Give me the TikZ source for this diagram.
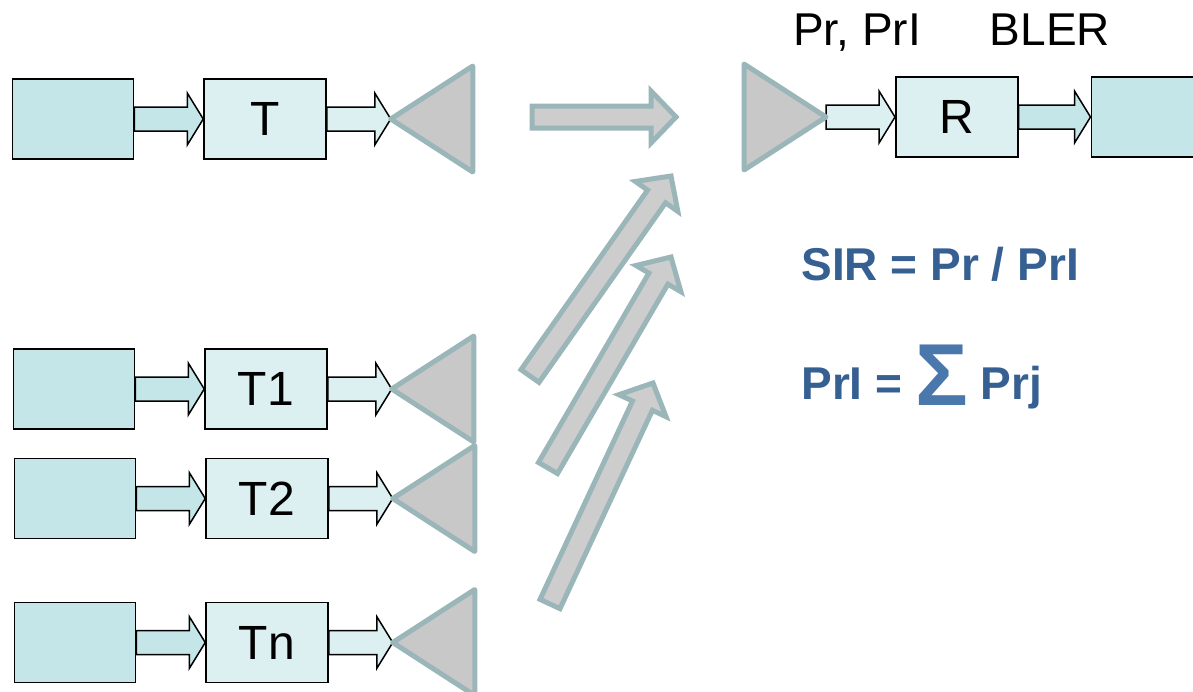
\documentclass[tikz,border=0pt]{standalone}
\usepackage{fontspec}
\setmainfont{Liberation Sans}
\usetikzlibrary{calc, positioning}
\definecolor{srcfill}{HTML}{C4E6E8}
\definecolor{txfill}{HTML}{DCEFF1}
\definecolor{antfill}{HTML}{C8C8C8}
\definecolor{antdraw}{HTML}{9BB6B9}
\definecolor{bigfill}{HTML}{CDCDCD}
\definecolor{textblue}{HTML}{376092}
\definecolor{sigmablue}{HTML}{4A78AC}
\tikzset{
    blockarrow/.style n args={3}{to path={
        ($(\tikztotarget)!#3!(\tikztostart)$) coordinate (bahead)
        ($(\tikztostart)!#1!90:(\tikztotarget)$)
        -- ($(bahead)!#1!-90:(\tikztostart)$)
        -- ($(bahead)!#2!-90:(\tikztostart)$)
        -- (\tikztotarget)
        -- ($(bahead)!#2!90:(\tikztostart)$)
        -- ($(bahead)!#1!90:(\tikztostart)$)
        -- ($(\tikztostart)!#1!-90:(\tikztotarget)$) -- cycle}},
    source/.style={rectangle, draw=black, line width=0.75pt, fill=srcfill, minimum width=60.5pt, minimum height=40pt, inner sep=0pt},
    txbox/.style={rectangle, draw=black, line width=0.75pt, fill=txfill, minimum width=61pt, minimum height=40pt, inner sep=0pt, font=\fontsize{24}{28}\selectfont},
    antenna/.style={draw=antdraw, fill=antfill, line width=2.5pt, line join=round},
    smallarrow/.style={draw=black, line width=0.75pt, line join=miter, blockarrow={6pt}{13pt}{8pt}},
    bigarrow/.style={draw=antdraw, fill=bigfill, line width=2.5pt, line join=miter, blockarrow={5.5pt}{13pt}{12.5pt}},
    toplabel/.style={inner sep=0pt, font=\fontsize{23}{27}\selectfont},
    formula/.style={inner sep=0pt, text=textblue, font=\fontsize{23}{27}\selectfont\bfseries}
}
\begin{document}
\begin{tikzpicture}[x=0.5pt, y=-0.5pt]
        \useasboundingbox (0,0) rectangle (1193,691);
        \clip (0,0) rectangle (1193,691);

        % Wanted link: transmitter side
        \node (src) [source] at (73,119) {};
        \node (tx) [txbox, right=34.5pt of src] {T};
        \coordinate [right=32pt of tx] (antT);
        \draw[smallarrow, fill=srcfill] (src.east) to (tx.west);
        \draw[smallarrow, fill=txfill] (tx.east) to (antT);
        \draw[antenna] (antT) -- ++(82,-53) -- ++(0,106) -- cycle;

        % Interferers
        \node (src1) [source] at (74,389) {};
        \node (tx1) [txbox, right=34.5pt of src1] {T1};
        \coordinate [right=32pt of tx1] (ant1);
        \draw[smallarrow, fill=srcfill] (src1.east) to (tx1.west);
        \draw[smallarrow, fill=txfill] (tx1.east) to (ant1);
        \draw[antenna] (ant1) -- ++(82,-53) -- ++(0,106) -- cycle;

        \node (src2) [source] at (75,498.5) {};
        \node (tx2) [txbox, right=34.5pt of src2] {T2};
        \coordinate [right=32pt of tx2] (ant2);
        \draw[smallarrow, fill=srcfill] (src2.east) to (tx2.west);
        \draw[smallarrow, fill=txfill] (tx2.east) to (ant2);
        \draw[antenna] (ant2) -- ++(82,-53) -- ++(0,106) -- cycle;

        \node (srcn) [source] at (75,642.5) {};
        \node (txn) [txbox, right=34.5pt of srcn] {Tn};
        \coordinate [right=32pt of txn] (antn);
        \draw[smallarrow, fill=srcfill] (srcn.east) to (txn.west);
        \draw[smallarrow, fill=txfill] (txn.east) to (antn);
        \draw[antenna] (antn) -- ++(82,-53) -- ++(0,106) -- cycle;

        % Radio paths
        \coordinate (wantfrom) at (532,117);
        \coordinate (wantto) at (676,117);
        \coordinate (itf1from) at (530,376);
        \coordinate (itf1to) at (671,176);
        \coordinate (itf2from) at (548,468);
        \coordinate (itf2to) at (671,257);
        \coordinate (itfnfrom) at (550,604);
        \coordinate (itfnto) at (653,383);
        \draw[bigarrow] (wantfrom) to (wantto);
        \draw[bigarrow] (itf1from) to (itf1to);
        \draw[bigarrow] (itf2from) to (itf2to);
        \draw[bigarrow] (itfnfrom) to (itfnto);

        % Receiver side
        \coordinate (antR) at (826,117);
        \node (rx) [txbox, right=34.5pt of antR] {R};
        \node (sink) [source, minimum width=61pt, right=36pt of rx] {};
        \draw[smallarrow, fill=txfill] (antR) to (rx.west);
        \draw[smallarrow, fill=srcfill] (rx.east) to (sink.west);
        \draw[antenna] (antR) -- ++(-82,-53) -- ++(0,106) -- cycle;

        % Labels
        \node (pwr) [toplabel, anchor=base] at (857,45) {Pr, PrI};
        \node (bler) [toplabel, anchor=base] at (1050,45) {BLER};
        \node (sir) [formula, anchor=base west] at (801,280) {SIR = Pr / PrI};
        \node (pri) [formula, anchor=base west] at (801,399) {PrI = {\fontsize{44}{44}\selectfont\color{sigmablue}\raisebox{-3pt}{Σ}} Prj};
    \end{tikzpicture}
\end{document}
